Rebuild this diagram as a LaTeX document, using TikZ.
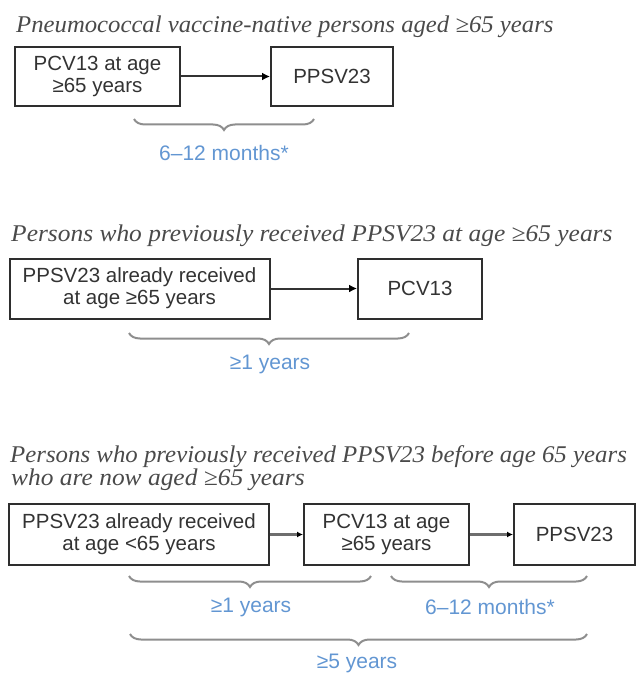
\documentclass[tikz,border=0pt]{standalone}
\usepackage{fontspec}
\setmainfont{Liberation Serif}
\setsansfont{Liberation Sans}
\usetikzlibrary{arrows.meta,decorations.pathreplacing}
\definecolor{boxline}{HTML}{2E2E2E}
\definecolor{txt}{HTML}{333333}
\definecolor{ttl}{HTML}{4A4A4A}
\definecolor{lbl}{HTML}{6296D2}
\definecolor{brc}{HTML}{8E8E8E}
\definecolor{arrgray}{HTML}{6E6E6E}
\begin{document}
\begin{tikzpicture}[x=1pt,y=-1pt,
  vbox/.style={draw=boxline,line width=2pt,rectangle,inner sep=0pt,align=center,
    font=\sffamily\fontsize{20.5}{22}\selectfont,text=txt},
  ttltext/.style={anchor=base west,inner sep=0pt,xscale=1.06,transform shape,
    font=\itshape\fontsize{24}{23}\selectfont,text=ttl,align=left},
  lbltext/.style={inner sep=0pt,font=\sffamily\fontsize{21}{22}\selectfont,text=lbl},
  arr/.style={draw=black!80,line width=2pt,-{Latex[length=8pt,width=8pt,color=black]}},
  arrb/.style={draw=arrgray,line width=3.5pt,-{Latex[length=6pt,width=6pt,color=black]}},
  brace/.style={draw=brc,line width=2pt,decorate,decoration={brace,amplitude=11pt,mirror}}]
\useasboundingbox (0,0) rectangle (636,674);
% Section 1
\node[ttltext,xscale=1.03/1.06] (t1) at (16,33) {Pneumococcal vaccine-native persons aged ≥65 years};
\node[vbox,minimum width=165pt,minimum height=59pt] (a1) at (97.5,76.5) {PCV13 at age\\≥65 years};
\node[vbox,minimum width=122pt,minimum height=59pt] (a2) at (332,76.5) {PPSV23};
\draw[arr] (a1.east) -- (a2.west);
\coordinate (ab1) at (134,119);
\coordinate (ab2) at (314,119);
\draw[brace] (ab1) -- (ab2);
\node[lbltext] (al) at (224,153) {6–12 months*};
% Section 2
\node[ttltext] (t2) at (11,241) {Persons who previously received PPSV23 at age ≥65 years};
\node[vbox,minimum width=260pt,minimum height=60pt] (b1) at (139.5,288.5) {PPSV23 already received\\at age ≥65 years};
\node[vbox,minimum width=124pt,minimum height=60pt] (b2) at (420,288.5) {PCV13};
\draw[arr] (b1.east) -- (b2.west);
\coordinate (bb1) at (129,333);
\coordinate (bb2) at (409,333);
\draw[brace] (bb1) -- (bb2);
\node[lbltext] (bl) at (270,364) {≥1 years};
% Section 3
\node[ttltext,xscale=1.035/1.06] (t3a) at (10,462) {Persons who previously received PPSV23 before age 65 years};
\node[ttltext] (t3b) at (11,485) {who are now aged ≥65 years};
\node[vbox,minimum width=260pt,minimum height=61pt] (c1) at (139,534.5) {PPSV23 already received\\at age <65 years};
\node[vbox,minimum width=165pt,minimum height=61pt] (c2) at (386.5,534.5) {PCV13 at age\\≥65 years};
\node[vbox,minimum width=121pt,minimum height=61pt] (c3) at (574.5,534.5) {PPSV23};
\draw[arrb] (c1.east) -- (c2.west);
\draw[arrb] (c2.east) -- (c3.west);
\coordinate (cb1) at (129,576);
\coordinate (cb2) at (371,576);
\draw[brace] (cb1) -- (cb2);
\coordinate (cb3) at (391,576);
\coordinate (cb4) at (587,576);
\draw[brace] (cb3) -- (cb4);
\node[lbltext] (cl1) at (251,607) {≥1 years};
\node[lbltext] (cl2) at (490,607) {6–12 months*};
\coordinate (cb5) at (130,634);
\coordinate (cb6) at (587,634);
\draw[brace] (cb5) -- (cb6);
\node[lbltext] (cl3) at (357,663) {≥5 years};
\end{tikzpicture}
\end{document}
